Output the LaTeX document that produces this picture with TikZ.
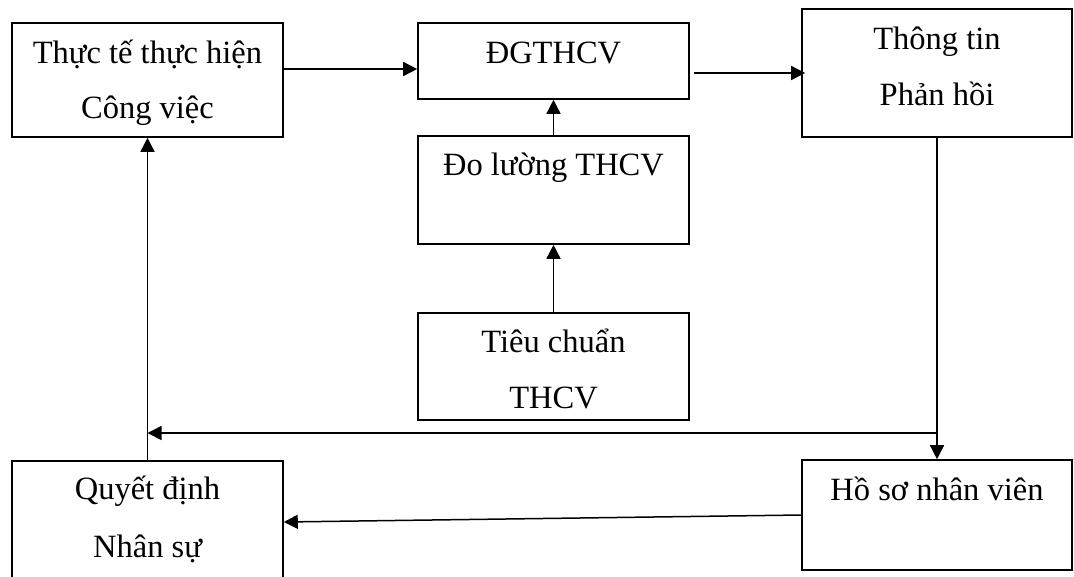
\documentclass[tikz,border=0pt]{standalone}
\usepackage{fontspec}
\setmainfont{Liberation Serif}
\usetikzlibrary{arrows.meta,calc}
\begin{document}
\begin{tikzpicture}[x=1pt,y=-1pt,
  box/.style={draw,line width=1.6pt,rectangle,inner sep=0pt},
  txt/.style={anchor=base,inner sep=0pt,font=\fontsize{32.5}{38}\selectfont},
  arr/.style={line width=1.5pt,-{Triangle[length=14pt,width=14pt]}},
  ln/.style={line width=1.5pt}]
\useasboundingbox (0,0) rectangle (1074,576);
% boxes
\node[box,minimum width=271pt,minimum height=114pt] (b1) at (147.5,80) {};
\node[box,minimum width=271pt,minimum height=76pt] (b2) at (553.5,61) {};
\node[box,minimum width=270pt,minimum height=128pt] (b3) at (937,73) {};
\node[box,minimum width=271pt,minimum height=108pt] (b4) at (553.5,190) {};
\node[box,minimum width=271pt,minimum height=107pt] (b5) at (553.5,366.5) {};
\node[box,minimum width=271pt,minimum height=122pt] (b6) at (147.5,522) {};
\node[box,minimum width=270pt,minimum height=110pt] (b7) at (937,515) {};
% texts
\node[txt] (t1a) at (147.5,63) {Thực tế thực hiện};
\node[txt] (t1b) at (147.5,118) {Công việc};
\node[txt] (t2) at (553.5,63) {ĐGTHCV};
\node[txt] (t3a) at (937,49) {Thông tin};
\node[txt] (t3b) at (937,105) {Phản hồi};
\node[txt] (t4) at (553.5,175) {Đo lường THCV};
\node[txt] (t5a) at (553.5,352) {Tiêu chuẩn};
\node[txt] (t5b) at (553.5,408) {THCV};
\node[txt] (t6a) at (147.5,499) {Quyết định};
\node[txt] (t6b) at (147.5,557) {Nhân sự};
\node[txt] (t7) at (937,500) {Hồ sơ nhân viên};
% connectors
\draw[arr] ([yshift=11pt]b1.east) -- ([yshift=11pt]b1.east -| b2.west);
\draw[arr] ([xshift=4pt,yshift=-12pt]b2.east) -- ([xshift=4pt,yshift=-12pt]b2.east -| b3.west);
\draw[arr] (b4.north) -- (b2.south);
\draw[arr] (b5.north) -- (b4.south);
\draw[arr] (b3.south) -- (b7.north);
\coordinate (j) at (937,433);
\draw[arr] (j) -- (j -| b6.north);
\draw[arr] (b6.north) -- (b1.south);
\draw[arr] (b7.west) -- (b6.east);
\end{tikzpicture}
\end{document}
